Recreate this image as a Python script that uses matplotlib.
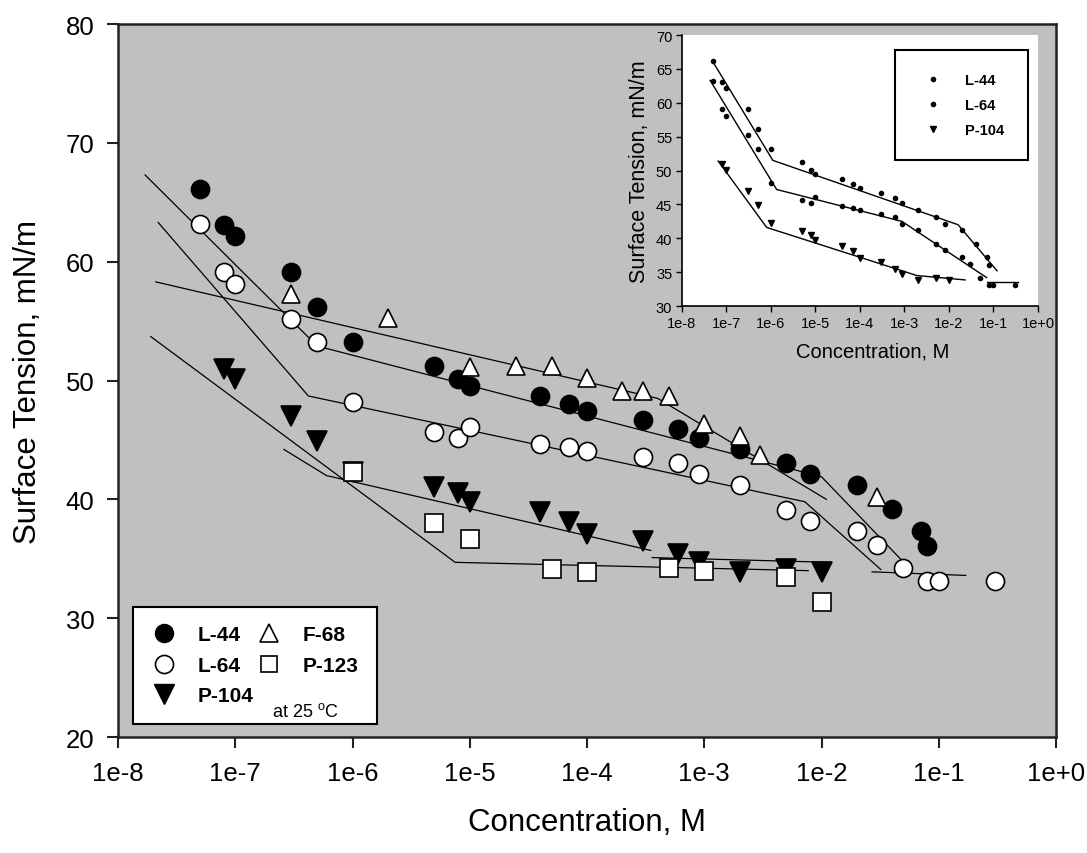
import matplotlib
matplotlib.use("Agg")
import matplotlib.pyplot as plt
from matplotlib.lines import Line2D
from matplotlib.ticker import FixedLocator, NullLocator

plt.rcParams["font.family"] = ["Liberation Sans", "DejaVu Sans"]
plt.rcParams["mathtext.fontset"] = "custom"
plt.rcParams["mathtext.rm"] = "Liberation Sans"
plt.rcParams["mathtext.it"] = "Liberation Sans"

# Surface tension (mN/m) vs. concentration (M), at 25 C
l44_conc = [5e-8, 8e-8, 1e-7, 3e-7, 5e-7, 1e-6, 5e-6, 8e-6, 1e-5, 4e-5, 7e-5,
            1e-4, 3e-4, 6e-4, 9e-4, 2e-3, 5e-3, 8e-3, 2e-2, 4e-2, 7e-2, 8e-2]
l44_st = [66.1, 63.1, 62.2, 59.1, 56.2, 53.2, 51.2, 50.1, 49.5, 48.7, 48.0,
          47.4, 46.7, 45.9, 45.2, 44.2, 43.1, 42.1, 41.2, 39.2, 37.3, 36.1]

l64_conc = [5e-8, 8e-8, 1e-7, 3e-7, 5e-7, 1e-6, 5e-6, 8e-6, 1e-5, 4e-5, 7e-5, 1e-4,
            3e-4, 6e-4, 9e-4, 2e-3, 5e-3, 8e-3, 2e-2, 3e-2, 5e-2, 8e-2, 1e-1, 3e-1]
l64_st = [63.2, 59.1, 58.1, 55.2, 53.2, 48.2, 45.7, 45.2, 46.1, 44.7, 44.4, 44.1,
          43.6, 43.1, 42.1, 41.2, 39.1, 38.2, 37.3, 36.2, 34.2, 33.1, 33.1, 33.1]

p104_conc = [8e-8, 1e-7, 3e-7, 5e-7, 1e-6, 5e-6, 8e-6, 1e-5, 4e-5, 7e-5, 1e-4,
             3e-4, 6e-4, 9e-4, 2e-3, 5e-3, 1e-2]
p104_st = [51.0, 50.1, 47.0, 44.9, 42.3, 41.0, 40.5, 39.8, 38.9, 38.1, 37.1,
           36.5, 35.4, 34.7, 33.9, 34.1, 33.9]

f68_conc = [3e-7, 2e-6, 1e-5, 2.5e-5, 5e-5, 1e-4, 2e-4, 3e-4, 5e-4, 1e-3, 2e-3, 3e-3, 3e-2]
f68_st = [57.3, 55.3, 51.1, 51.2, 51.2, 50.2, 49.1, 49.1, 48.7, 46.3, 45.3, 43.7, 40.2]

p123_conc = [1e-6, 5e-6, 1e-5, 5e-5, 1e-4, 5e-4, 1e-3, 5e-3, 1e-2]
p123_st = [42.3, 38.0, 36.7, 34.1, 33.9, 34.2, 34.0, 33.5, 31.4]

# piecewise linear fits (break points), main panel
fit_f68_c = [2.1e-8, 4e-4, 1.1e-2]
fit_f68_st = [58.3, 48.5, 40.0]
fit_l44_c = [1.7e-8, 5e-7, 1.0e-2, 5.5e-2]
fit_l44_st = [67.3, 52.9, 41.9, 34.3]
fit_l64_c = [2.2e-8, 4.2e-7, 7.2e-3, 3.2e-2]
fit_l64_st = [63.3, 48.7, 39.8, 34.1]
fit_tail_c = [2.7e-2, 1.7e-1]
fit_tail_st = [33.9, 33.6]
fit_p104_c = [2.6e-7, 6e-7, 3.5e-4]
fit_p104_st = [44.2, 42.0, 35.7]
fit_p104_flat_c = [3.6e-4, 1.2e-2]
fit_p104_flat_st = [35.1, 34.7]
fit_p123_c = [1.9e-8, 7.5e-6, 7.7e-3]
fit_p123_st = [53.7, 34.7, 34.0]

# fits shown in the small panel
ins_l44_c = [5e-8, 1.1e-6, 1.6e-2, 1.2e-1]
ins_l44_st = [66.0, 51.5, 42.0, 35.2]
ins_l64_c = [4.3e-8, 1.34e-6, 8.7e-4, 7e-2]
ins_l64_st = [63.3, 47.2, 42.5, 34.2]
ins_l64_flat_c = [7e-2, 3.6e-1]
ins_l64_flat_st = [33.5, 33.5]
ins_p104_c = [6.5e-8, 8e-7, 1.9e-3, 2.3e-2]
ins_p104_st = [51.4, 41.6, 34.5, 33.85]

decades = [10.0 ** k for k in range(-8, 1)]
decade_labels = ["1e-8", "1e-7", "1e-6", "1e-5", "1e-4", "1e-3", "1e-2", "1e-1", "1e+0"]

fig = plt.figure(figsize=(10.87, 8.54), dpi=100)
ax = fig.add_axes([0.1086, 0.1358, 0.8629, 0.8349])
ax.set_facecolor("#c0c0c0")
ax.set_xscale("log")
ax.set_xlim(1e-8, 1)
ax.set_ylim(20, 80)
ax.xaxis.set_major_locator(FixedLocator(decades))
ax.xaxis.set_minor_locator(NullLocator())
ax.set_xticklabels(decade_labels)
ax.set_yticks(range(20, 81, 10))
ax.tick_params(direction="out", length=8, width=1.5, labelsize=18.5, pad=9, colors="#222222",
               labelcolor="black")
for s in ax.spines.values():
    s.set_linewidth(1.8)
    s.set_color("#222222")
ax.set_xlabel("Concentration, M", fontsize=22.5, labelpad=16)
ax.set_ylabel("Surface Tension, mN/m", fontsize=22.5, labelpad=16)

line_kw = dict(color="black", lw=0.9, zorder=2)
for c, v in [(fit_f68_c, fit_f68_st), (fit_l44_c, fit_l44_st), (fit_l64_c, fit_l64_st),
             (fit_tail_c, fit_tail_st), (fit_p104_c, fit_p104_st),
             (fit_p104_flat_c, fit_p104_flat_st), (fit_p123_c, fit_p123_st)]:
    ax.plot(c, v, **line_kw)

mk = dict(ls="none", mec="black", mew=1.2, zorder=3)
ax.plot(l44_conc, l44_st, marker="o", ms=13, mfc="black", **mk)
ax.plot(l64_conc, l64_st, marker="o", ms=13, mfc="white", **mk)
ax.plot(p104_conc, p104_st, marker="v", ms=14, mfc="black", **mk)
ax.plot(f68_conc, f68_st, marker="^", ms=13, mfc="white", **mk)
ax.plot(p123_conc, p123_st, marker="s", ms=12.5, mfc="white", **mk)

handles = [
    Line2D([], [], ls="none", marker="o", ms=13, mfc="black", mec="black"),
    Line2D([], [], ls="none", marker="o", ms=13, mfc="white", mec="black", mew=1.2),
    Line2D([], [], ls="none", marker="v", ms=14, mfc="black", mec="black"),
    Line2D([], [], ls="none", marker="^", ms=13, mfc="white", mec="black", mew=1.2),
    Line2D([], [], ls="none", marker="s", ms=12, mfc="white", mec="black", mew=1.2),
]
labels = ["L-44", "L-64", "P-104", "F-68", "P-123"]
leg = ax.legend(handles, labels, ncol=2, loc="lower left", bbox_to_anchor=(0.0157, 0.0182),
                borderaxespad=0, frameon=True, fancybox=False, edgecolor="black",
                facecolor="white", framealpha=1, prop={"weight": "bold", "size": 15},
                handlelength=1.2, handletextpad=1.0, columnspacing=0.15,
                labelspacing=0.55, borderpad=0.9)
leg.get_frame().set_linewidth(1.5)
leg.set_zorder(5)
ax.text(0.164, 0.029, r"at 25 $^{\mathrm{o}}$C", transform=ax.transAxes,
        fontsize=13, zorder=6)

# small panel: L-44, L-64 and P-104 only
ins = fig.add_axes([0.6274, 0.6405, 0.3275, 0.3173])
ins.set_facecolor("white")
ins.set_xscale("log")
ins.set_xlim(1e-8, 1)
ins.set_ylim(30, 70)
ins.xaxis.set_major_locator(FixedLocator(decades))
ins.xaxis.set_minor_locator(NullLocator())
ins.set_xticklabels(decade_labels)
ins.set_yticks(range(30, 71, 5))
ins.spines["top"].set_visible(False)
ins.spines["right"].set_visible(False)
for s in ["left", "bottom"]:
    ins.spines[s].set_linewidth(1.2)
ins.tick_params(direction="out", length=4, width=1, labelsize=10.5, pad=3)
ins.set_xlabel("Concentration, M", fontsize=14.5, labelpad=5)
ins.set_ylabel("Surface Tension, mN/m", fontsize=15.5, labelpad=4)
ins.xaxis.set_label_coords(0.535, -0.13)

for c, v in [(ins_l44_c, ins_l44_st), (ins_l64_c, ins_l64_st),
             (ins_l64_flat_c, ins_l64_flat_st), (ins_p104_c, ins_p104_st)]:
    ins.plot(c, v, color="black", lw=1.0, zorder=2)
ins.plot(l44_conc, l44_st, ls="none", marker="o", ms=3, color="black", zorder=3)
ins.plot(l64_conc, l64_st, ls="none", marker="o", ms=3, color="black", zorder=3)
ins.plot(p104_conc, p104_st, ls="none", marker="v", ms=5, color="black", zorder=3)

ins_handles = [
    Line2D([], [], ls="none", marker="o", ms=3, color="black"),
    Line2D([], [], ls="none", marker="o", ms=3, color="black"),
    Line2D([], [], ls="none", marker="v", ms=5, color="black"),
]
ileg = ins.legend(ins_handles, ["L-44", "L-64", "P-104"], loc="upper right",
                  bbox_to_anchor=(0.972, 0.945), borderaxespad=0, frameon=True,
                  fancybox=False, edgecolor="black", facecolor="white", framealpha=1,
                  prop={"weight": "bold", "size": 10.5}, handlelength=2.0,
                  handletextpad=1.2, labelspacing=0.75, borderpad=1.6)
ileg.get_frame().set_linewidth(1.5)

fig.savefig("out.png", dpi=100, facecolor="white")
